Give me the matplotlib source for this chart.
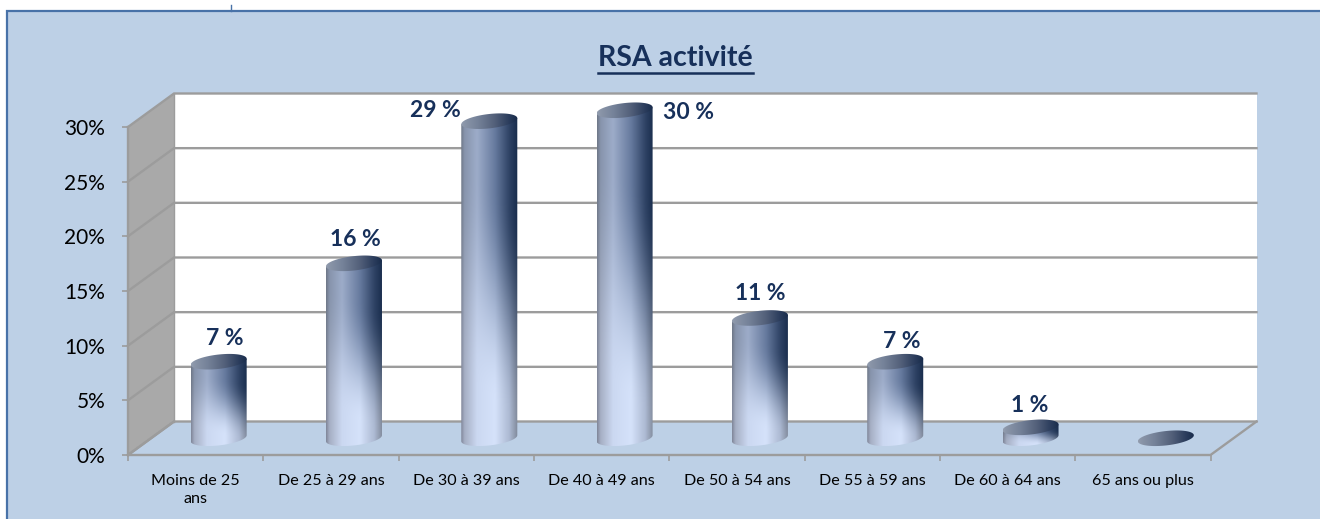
import numpy as np
import matplotlib
matplotlib.use("Agg")
import matplotlib.pyplot as plt
from matplotlib.lines import Line2D
from matplotlib.patches import PathPatch, Polygon, Rectangle
from matplotlib.path import Path

categories = ["Moins de 25\nans", "De 25 à 29 ans", "De 30 à 39 ans", "De 40 à 49 ans",
              "De 50 à 54 ans", "De 55 à 59 ans", "De 60 à 64 ans", "65 ans ou plus"]
values = [7, 16, 29, 30, 11, 7, 1, 0]
value_labels = ["7 %", "16 %", "29 %", "30 %", "11 %", "7 %", "1 %", ""]
y_ticks = [0, 5, 10, 15, 20, 25, 30]
title = "RSA activité"

W, H = 1320, 519
NAVY = "#17305a"
GRID = "#9c9c9c"
PANEL = "#bdd0e6"
BORDER = "#4872a8"

plt.rcParams["font.family"] = ["Lato", "DejaVu Sans"]

fig = plt.figure(figsize=(W / 100, H / 100), dpi=100, facecolor="white")

# panel behind the chart, pixel coordinates from the top left
fig.add_artist(Rectangle((7 / W, -0.01), (W - 5) / W, 1 - 11 / H + 0.01, transform=fig.transFigure,
                         facecolor=PANEL, edgecolor=BORDER, linewidth=1.6, zorder=-5))
fig.add_artist(Line2D([231 / W, 231 / W], [1 - 11 / H, 1 - 5 / H], color=BORDER, lw=1, zorder=-5))

ax = fig.add_axes([128 / W, 1 - 455 / H, (1210.5 - 128) / W, (455 - 127) / H])
ax.patch.set_visible(False)
ax.set_xlim(0, len(categories))
ax.set_ylim(0, 30)
for s in ax.spines.values():
    s.set_visible(False)

# depth of the 3d box, in data units
DX = 46 / 135.3
DY = 33.5 / (328 / 30)
ymax = y_ticks[-1]
n = len(categories)

# walls
ax.add_patch(Polygon([(DX, DY), (n + DX, DY), (n + DX, ymax + DY), (DX, ymax + DY)],
                     facecolor="white", edgecolor="none", zorder=1, clip_on=False))
ax.add_patch(Polygon([(0, 0), (DX, DY), (DX, ymax + DY), (0, ymax)],
                     facecolor="#a9a9a9", edgecolor="none", zorder=1, clip_on=False))
for t in y_ticks:
    ax.plot([0, DX, n + DX], [t, t + DY, t + DY], color=GRID, lw=1.7, zorder=2,
            clip_on=False, solid_joinstyle="miter")
ax.plot([DX, DX], [DY, ymax + DY], color=GRID, lw=1, zorder=2, clip_on=False)
ax.plot([0, 0], [0, ymax], color=GRID, lw=1.7, zorder=2, clip_on=False)
ax.plot([DX, 0, n, n + DX], [DY, 0, 0, DY], color=GRID, lw=1.7, zorder=2, clip_on=False)

# cylinders
def hex2rgb(c):
    return np.array(matplotlib.colors.to_rgb(c))


U_STOPS = [0, 0.06, 0.28, 0.6, 0.85, 1]
TOP_COLS = np.array([hex2rgb(c) for c in ["#6f7888", "#8794ac", "#9dacc9", "#667a9e", "#2f4365", "#182c4c"]])
LOW_COLS = np.array([hex2rgb(c) for c in ["#80879a", "#a6afc4", "#cbd8f1", "#d5e2fa", "#adbad3", "#7f8899"]])
CAP_COLS = np.array([hex2rgb(c) for c in ["#939daf", "#8a95a8", "#76839a", "#525f79", "#2a3c5c", "#172a49"]])


def profile(cols, u):
    return np.stack([np.interp(u, U_STOPS, cols[:, i]) for i in range(3)], axis=-1)


def body_image():
    u, v = np.meshgrid(np.linspace(0, 1, 120), np.linspace(1, 0, 200))
    s = np.clip((v + 0.15 * u - 0.22) / 0.65, 0, 1)
    w = (s * s * (3 - 2 * s))[..., None]
    return w * profile(TOP_COLS, u) + (1 - w) * profile(LOW_COLS, u)


def cap_image():
    u = np.linspace(0, 1, 120)[None, :]
    return profile(CAP_COLS, u)


A = 28 / 135.3
B = 7.2 / (328 / 30)
TILT = 3 / (328 / 30)
BODY = body_image()
CAP = cap_image()
tt = np.linspace(0, 2 * np.pi, 100)

for i, val in enumerate(values):
    cx = i + 0.5 + DX / 2
    y0 = DY / 2
    y1 = y0 + val
    if val > 0:
        arc = np.linspace(np.pi, 2 * np.pi, 50)
        xs = np.r_[cx - A, cx + A * np.cos(arc), cx + A]
        ys = np.r_[y1 - TILT, y0 + B * np.sin(arc) + TILT * np.cos(arc), y1 + TILT]
        body = PathPatch(Path(np.c_[xs, ys]), facecolor="none", edgecolor="none", zorder=3, clip_on=False)
        ax.add_patch(body)
        im = ax.imshow(BODY, extent=[cx - A, cx + A, y0 - B - TILT, y1 + TILT], aspect="auto", zorder=3)
        im.set_clip_box(fig.bbox)
        im.set_clip_path(body)
    cap = PathPatch(Path(np.c_[cx + A * np.cos(tt), y1 + B * np.sin(tt) + TILT * np.cos(tt)]),
                    facecolor="none", edgecolor="none", zorder=4, clip_on=False)
    ax.add_patch(cap)
    im = ax.imshow(CAP, extent=[cx - A, cx + A, y1 - B - TILT, y1 + B + TILT], aspect="auto", zorder=4)
    im.set_clip_box(fig.bbox)
    im.set_clip_path(cap)

# value labels, nudged by hand like in the source chart
label_offsets = [(6, 23), (1, 24), (-54, 11), (64, -2), (0, 24), (7, 20), (-1, 22), (0, 0)]
for i, (val, txt) in enumerate(zip(values, value_labels)):
    if txt:
        ax.annotate(txt, (i + 0.5 + DX / 2, DY / 2 + val), xytext=label_offsets[i], textcoords="offset pixels",
                    ha="center", va="center", fontsize=16.5, fontweight="bold", color=NAVY, zorder=5,
                    annotation_clip=False)

ax.set_xlim(0, n)
ax.set_ylim(0, ymax)
ax.set_yticks(y_ticks)
ax.set_yticklabels([f"{t}%" for t in y_ticks])
ax.tick_params(axis="y", length=4.3, width=1.2, color=GRID, pad=12, labelsize=15, labelcolor="black")
ax.set_xticks(range(n + 1))
ax.set_xticklabels([])
ax.tick_params(axis="x", which="major", length=4, width=1.2, color=GRID)
ax.set_xticks(np.arange(n) + 0.5, minor=True)
ax.set_xticklabels(categories, minor=True, fontsize=11.6, color="black", linespacing=1.35)
ax.tick_params(axis="x", which="minor", length=0, pad=14)

tt_txt = fig.text(675.5 / W, 1 - 58 / H, title, ha="center", va="center", fontsize=20.5, fontweight="bold", color=NAVY)
fig.canvas.draw()
bb = tt_txt.get_window_extent()
fig.add_artist(Line2D([bb.x0 / W, bb.x1 / W], [1 - 73 / H, 1 - 73 / H], color=NAVY, lw=1.8))

fig.savefig("out.png", dpi=100)
